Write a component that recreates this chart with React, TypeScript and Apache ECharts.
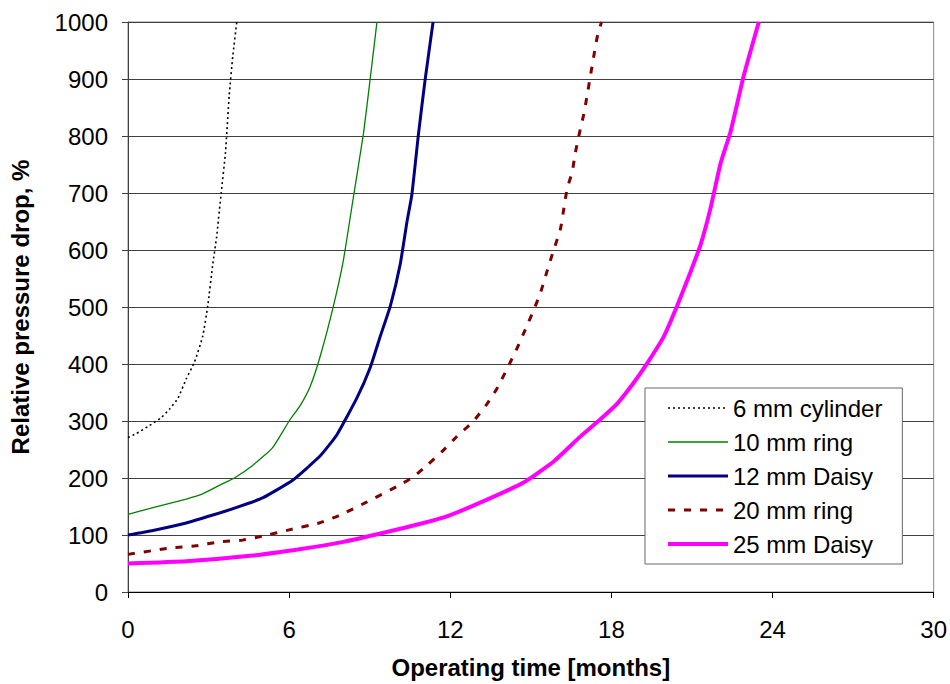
import React, { useEffect, useRef } from "react";
import * as echarts from "echarts";

const seriesNames = ["6 mm cylinder", "10 mm ring", "12 mm Daisy", "20 mm ring", "25 mm Daisy"];

const cyl6Time = [0, 0.31, 0.8, 1.24, 1.55, 1.86, 2.17, 2.48, 2.78, 2.97, 3.16, 3.3, 3.47, 3.63, 3.77, 3.9, 4.05];
const cyl6Drop = [271, 278, 292, 306, 321, 340, 374, 404, 448, 502, 576, 623, 700, 771, 872, 939, 1000];

const ring10Time = [0, 0.93, 2.17, 2.78, 3.4, 3.96, 4.64, 5.38, 6.0, 6.41, 6.78, 7.16, 7.65, 8.02, 8.34, 8.77, 9.02, 9.27];
const ring10Drop = [136, 148, 163, 172, 187, 200, 222, 253, 300, 327, 360, 414, 502, 582, 677, 805, 901, 1000];

const daisy12Time = [0, 0.93, 2.17, 3.16, 4.02, 5.01, 6.13, 7.16, 7.78, 8.52, 9.02, 9.39, 9.77, 10.14, 10.39, 10.57, 10.82, 11.07, 11.36];
const daisy12Drop = [100, 108, 121, 135, 148, 165, 196, 239, 276, 340, 394, 448, 502, 576, 650, 697, 805, 901, 1000];

const ring20Time = [0, 1.55, 2.54, 3.4, 4.27, 5.01, 6.0, 7.12, 7.9, 8.9, 10.01, 10.63, 11.13, 11.75, 12.25, 12.87, 13.37, 13.74, 14.11, 14.49, 14.8, 15.11, 15.36, 15.6, 15.85, 16.1, 16.23, 16.35, 16.54, 16.66, 16.81, 16.97, 17.1, 17.22, 17.34, 17.47, 17.63];
const ring20Drop = [66, 77, 81, 88, 91, 98, 109, 121, 135, 158, 185, 202, 222, 249, 273, 300, 330, 357, 391, 428, 461, 495, 525, 562, 600, 636, 673, 707, 737, 771, 805, 838, 872, 906, 939, 973, 1000];

const daisy25Time = [0, 2.17, 4.64, 6.5, 8.02, 9.52, 11.0, 12.0, 13.37, 14.73, 15.85, 16.85, 17.59, 18.21, 18.83, 19.33, 19.95, 20.45, 20.95, 21.32, 21.69, 22.06, 22.44, 22.93, 23.49];
const daisy25Drop = [50, 54, 64, 76, 88, 104, 121, 135, 162, 192, 229, 273, 303, 330, 367, 401, 448, 502, 562, 609, 673, 751, 808, 906, 1000];

const xTicks = [0, 6, 12, 18, 24, 30];
const yTicks = [0, 100, 200, 300, 400, 500, 600, 700, 800, 900, 1000];

const zip = (xs: number[], ys: number[]) => xs.map((x, i) => [x, ys[i]]);

const FONT = "'Liberation Sans', Arial, sans-serif";

export default function App() {
  const ref = useRef<HTMLDivElement>(null);
  useEffect(() => {
    if (!ref.current) return;
    const chart = echarts.init(ref.current, undefined, { renderer: "svg" });
    const lineBase = { type: "line" as const, symbol: "none", smooth: 0.15 };
    chart.setOption({
      animation: false,
      backgroundColor: "#ffffff",
      textStyle: { fontFamily: FONT },
      grid: {
        left: 128,
        right: 16,
        top: 22,
        bottom: 92,
        show: true,
        borderColor: "#888888",
        borderWidth: 1,
      },
      legend: {
        orient: "vertical",
        left: 645,
        top: 388,
        data: seriesNames,
        backgroundColor: "#ffffff",
        borderColor: "#666666",
        borderWidth: 1,
        borderRadius: 0,
        padding: [8, 20, 8, 21],
        itemWidth: 60,
        itemHeight: 24,
        itemGap: 10,
        itemStyle: { opacity: 0 },
        lineStyle: { width: "inherit", type: "inherit" },
        textStyle: { fontSize: 24, color: "#000", fontFamily: FONT, lineHeight: 24 },
      },
      xAxis: {
        type: "value",
        min: 0,
        max: 30,
        interval: 6,
        name: "Operating time [months]",
        nameLocation: "middle",
        nameGap: 63,
        nameTextStyle: { fontSize: 24, fontWeight: "bold", color: "#000", fontFamily: FONT },
        axisLine: { show: true, lineStyle: { color: "#000", width: 1 } },
        axisTick: { show: true, length: 6, inside: false, lineStyle: { color: "#000" } },
        axisLabel: {
          fontSize: 24,
          color: "#000",
          margin: 25,
          fontFamily: FONT,
          formatter: (v: number) => (xTicks.includes(v) ? String(v) : ""),
        },
        splitLine: { show: false },
      },
      yAxis: {
        type: "value",
        min: 0,
        max: 1000,
        interval: 100,
        name: "Relative pressure drop, %",
        nameLocation: "middle",
        nameGap: 96,
        nameRotate: 90,
        nameTextStyle: { fontSize: 24, fontWeight: "bold", color: "#000", fontFamily: FONT },
        axisLine: { show: true, lineStyle: { color: "#404040", width: 1 } },
        axisTick: { show: true, length: 6, inside: false, lineStyle: { color: "#404040" } },
        axisLabel: {
          fontSize: 24,
          color: "#000",
          margin: 20,
          fontFamily: FONT,
          formatter: (v: number) => (yTicks.includes(v) ? String(v) : ""),
        },
        splitLine: { show: true, lineStyle: { color: "#404040", width: 1 } },
      },
      series: [
        {
          ...lineBase,
          name: seriesNames[0],
          data: zip(cyl6Time, cyl6Drop),
          lineStyle: { color: "#000000", width: 1.6, type: [2, 3] },
          itemStyle: { color: "#000000" },
          z: 5,
        },
        {
          ...lineBase,
          name: seriesNames[1],
          data: zip(ring10Time, ring10Drop),
          lineStyle: { color: "#008000", width: 1.3, type: "solid" },
          itemStyle: { color: "#008000" },
        },
        {
          ...lineBase,
          name: seriesNames[2],
          data: zip(daisy12Time, daisy12Drop),
          lineStyle: { color: "#000080", width: 3, type: "solid" },
          itemStyle: { color: "#000080" },
        },
        {
          ...lineBase,
          name: seriesNames[3],
          data: zip(ring20Time, ring20Drop),
          lineStyle: { color: "#800000", width: 3, type: [7, 9] },
          itemStyle: { color: "#800000" },
        },
        {
          ...lineBase,
          name: seriesNames[4],
          data: zip(daisy25Time, daisy25Drop),
          lineStyle: { color: "#FF00FF", width: 4, type: "solid" },
          itemStyle: { color: "#FF00FF" },
        },
      ],
    });
    return () => chart.dispose();
  }, []);
  return (
    <div
      ref={ref}
      style={{ position: "fixed", left: 0, top: 0, width: 950, height: 684, background: "#fff" }}
    />
  );
}
